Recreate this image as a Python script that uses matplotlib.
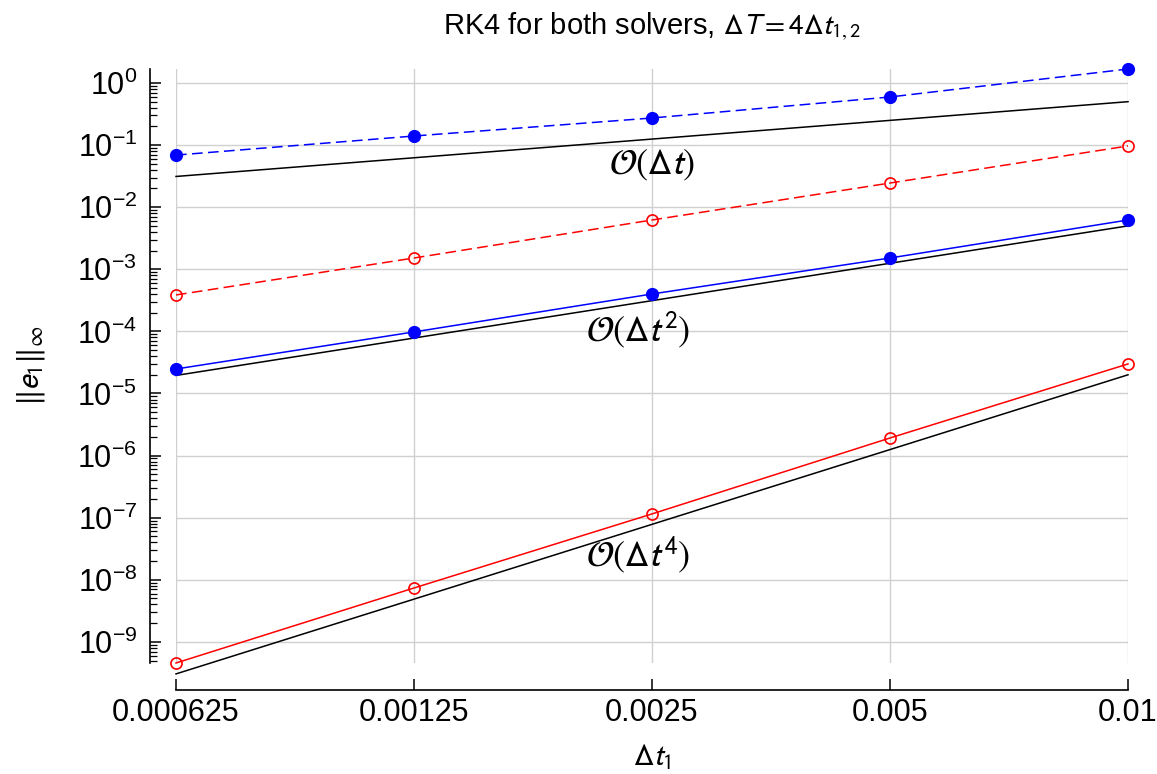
import numpy as np
import matplotlib
matplotlib.use("Agg")
import matplotlib.pyplot as plt
from matplotlib.ticker import LogLocator, NullLocator, FixedLocator, FixedFormatter

plt.rcParams['font.family'] = ['Liberation Sans', 'DejaVu Sans']
plt.rcParams['mathtext.fontset'] = 'stixsans'

# time steps
dt = [0.000625, 0.00125, 0.0025, 0.005, 0.01]
dt_labels = ['0.000625', '0.00125', '0.0025', '0.005', '0.01']

# errors
blue_dashed = [0.069, 0.140, 0.273, 0.595, 1.68]
red_dashed = [3.86e-4, 1.52e-3, 6.22e-3, 0.0245, 0.0968]
blue_solid = [2.48e-5, 9.8e-5, 4.0e-4, 1.52e-3, 6.22e-3]
red_solid = [4.57e-10, 7.38e-9, 1.15e-7, 1.92e-6, 2.99e-5]

# reference slopes
ref1 = [0.03125, 0.0625, 0.125, 0.25, 0.5]
ref2 = [1.953e-5, 7.8125e-5, 3.125e-4, 1.25e-3, 5e-3]
ref4 = [3.05e-10, 4.88e-9, 7.81e-8, 1.25e-6, 2e-5]

y_major = [1e-9, 1e-8, 1e-7, 1e-6, 1e-5, 1e-4, 1e-3, 1e-2, 1e-1, 1e0]

fig = plt.figure(figsize=(11.57, 7.74), dpi=100)
ax = fig.add_axes([176/1157, 1 - 663/774, (1128 - 176)/1157, (663 - 69)/774])

ax.set_xscale('log', base=2)
ax.set_yscale('log')

kw = dict(lw=1.1, clip_on=False, zorder=3)
ax.plot(dt, ref1, color='black', **kw)
ax.plot(dt, ref2, color='black', **kw)
ax.plot(dt, ref4, color='black', **kw)

ax.plot(dt, blue_dashed, color='#0000ff', dashes=(7, 3.5), marker='o', ms=8.5, **kw)
ax.plot(dt, blue_solid, color='#0000ff', marker='o', ms=8.5, **kw)
ax.plot(dt, red_dashed, color='#ff0000', dashes=(7, 3.5), marker='o', ms=8,
        mfc='none', mew=1.2, **kw)
ax.plot(dt, red_solid, color='#ff0000', marker='o', ms=8, mfc='none', mew=1.2, **kw)

ax.text(0.0025, 0.0478, r'$\mathcal{O}(\Delta t)$', fontsize=26, ha='center', va='center')
ax.text(0.0024, 1.05e-4, r'$\mathcal{O}(\Delta t^2)$', fontsize=26, ha='center', va='center')
ax.text(0.0024, 2.5e-8, r'$\mathcal{O}(\Delta t^4)$', fontsize=26, ha='center', va='center')

ax.set_xlim(dt[0], dt[-1])
ax.set_ylim(min(red_solid), max(blue_dashed))

ax.xaxis.set_major_locator(FixedLocator(dt))
ax.xaxis.set_major_formatter(FixedFormatter(dt_labels))
ax.xaxis.set_minor_locator(NullLocator())
ax.yaxis.set_major_locator(FixedLocator(y_major))
ax.yaxis.set_minor_locator(LogLocator(base=10, subs=np.arange(2, 10), numticks=20))

ax.grid(True, which='major', color='#d0d0d0', lw=1)
ax.set_axisbelow(True)

# offset spines (in points, ~26 px)
for s in ['top', 'right']:
    ax.spines[s].set_visible(False)
ax.spines['left'].set_position(('outward', 19))
ax.spines['bottom'].set_position(('outward', 19.5))
ax.spines['left'].set_linewidth(1.2)
ax.spines['bottom'].set_linewidth(1.2)

ax.tick_params(axis='both', which='major', direction='in', length=8, width=1.1)
ax.tick_params(axis='x', which='major', labelsize=22, pad=6)
ax.tick_params(axis='y', which='major', labelsize=22, pad=9)
ax.tick_params(axis='y', which='minor', direction='in', length=5, width=0.9)

ax.set_xlabel(r'$\Delta t_1$', fontsize=22, labelpad=10)
ax.set_ylabel(r'$\|e_1\|_\infty$', fontsize=23, labelpad=22)
ax.set_title(r'RK4 for both solvers, $\Delta T = 4\Delta t_{1,2}$', fontsize=21, pad=25)

fig.savefig('out.png', dpi=100)
